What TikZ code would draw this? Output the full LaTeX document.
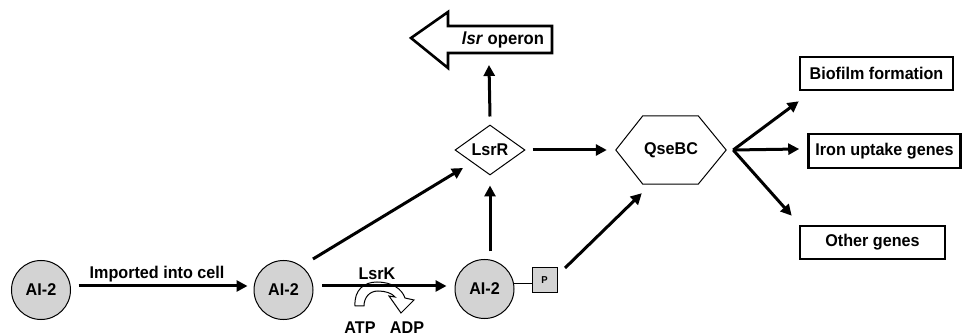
\documentclass[tikz,border=0pt]{standalone}
\usepackage{fontspec}
\setmainfont{Liberation Sans}[FakeStretch=0.95]
\usetikzlibrary{arrows.meta,calc,shapes.geometric}
\definecolor{aigray}{HTML}{D3D3D3}
\begin{document}
\begin{tikzpicture}[x=1pt,y=1pt,
  txt/.style={font=\fontsize{17}{20}\selectfont\bfseries},
  ai/.style={circle,draw,fill=aigray,line width=1pt,minimum size=59pt,inner sep=0pt,txt},
  arr/.style={line width=3pt,-{Triangle[length=11pt,width=11pt]}},
  gbox/.style={draw,line width=2.6pt,inner sep=0pt,txt},
  thin1/.style={line width=1pt}]
\useasboundingbox (0,0) rectangle (963,-336);
% AI-2 circles
\node[ai] (a1) at (41,-290) {AI-2};
\node[ai] (a2) at (283.5,-290) {AI-2};
\node[ai] (a3) at (484.5,-289) {AI-2};
% phosphate
\node[draw,fill=aigray,thin1,minimum size=25pt,inner sep=0pt,font=\fontsize{10}{11}\selectfont\bfseries] (p) at (544.5,-280.5) {P};
\draw[thin1] ([yshift=-3.5pt]p.west) -- ++(-19,0);
% LsrR
\node[diamond,draw,thin1,aspect=1.4,minimum width=70pt,minimum height=50pt,inner sep=0pt,txt] (lsrr) at (490,-150) {LsrR};
% QseBC hexagon
\node[minimum width=110pt,minimum height=68pt,inner sep=0pt,txt] (q) at (671,-150) {QseBC};
\draw[thin1] (q.west) -- ($(q.north west)+(27,0)$) -- ($(q.north east)+(-28,0)$) -- (q.east) -- ($(q.south east)+(-28,0)$) -- ($(q.south west)+(27,0)$) -- cycle;
% output boxes
\node[gbox,minimum width=153pt,minimum height=33pt] (bf) at (876.5,-73.5) {Biofilm formation};
\node[gbox,minimum width=152pt,minimum height=34pt] (ir) at (884.5,-151) {Iron uptake genes};
\node[gbox,minimum width=145pt,minimum height=33pt] (og) at (872.5,-242.5) {Other genes};
% lsr operon big arrow
\draw[line width=2.6pt,line join=miter] (411,-38) -- (448,-12) -- (448,-26) -- (552,-26) -- (552,-53) -- (448,-53) -- (448,-68) -- cycle;
\node[font=\fontsize{17.5}{20}\selectfont\bfseries] (op) at (503,-40) {\textit{lsr} operon};
\coordinate (opb) at (489,-53);
% labels
\node[txt] (imp) at (157,-274) {Imported into cell};
\node[txt] (lsrk) at (377,-274) {LsrK};
\node[txt] (atp) at (360,-328) {ATP};
\node[txt] (adp) at (407,-328) {ADP};
% curved hollow arrow
\draw[thin1,fill=white,line join=miter] (355,-306) .. controls (354,-290) and (364,-282) .. (377,-282)
  .. controls (392,-282) and (402,-289) .. (405,-298)
  -- (414,-300) -- (401,-313) -- (389,-296) -- (395,-297)
  .. controls (392,-293) and (385,-291) .. (378,-291)
  .. controls (369,-291) and (364,-298) .. (364,-306) -- cycle;
% connectors
\draw[arr] ([xshift=7.5pt,yshift=4pt]a1.east) -- ([xshift=-6pt,yshift=4pt]a2.west);
\draw[arr] ([xshift=8.5pt,yshift=4pt]a2.east) -- ([xshift=-8pt,yshift=3pt]a3.west);
\draw[arr] ($(a2.center)+(29.5,31)$) -- ($(lsrr.center)+(-27,-18)$);
\draw[arr] ([yshift=7.5pt]a3.north -| lsrr.south) -- ([yshift=-10pt]lsrr.south);
\draw[arr] ([yshift=8pt]lsrr.north) -- ([yshift=-12pt]opb);
\draw[arr] ([xshift=7pt]lsrr.east) -- ([xshift=-9pt]q.west);
\draw[arr] ($(p.center)+(20.5,12.5)$) -- ($(q.south west)+(26,-9)$);
\coordinate (qs) at ($(q.east)+(7,0)$);
\draw[arr] (qs) -- ($(bf.south west)+(0,-10)$);
\draw[arr] (qs) -- ($(ir.west)+(-8,2)$);
\draw[arr] (qs) -- ($(og.north west)+(-7,9)$);
\end{tikzpicture}
\end{document}
